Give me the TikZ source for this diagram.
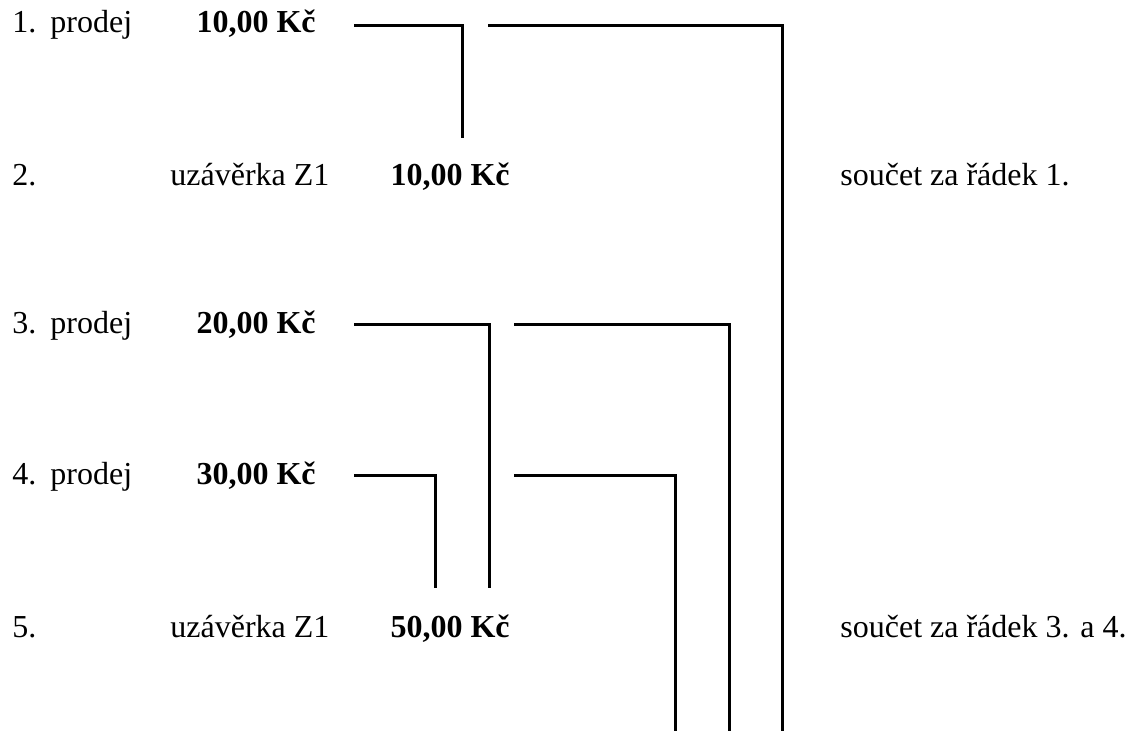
\documentclass[tikz,border=0pt]{standalone}
\usepackage{fontspec}
\setmainfont{Liberation Serif}
\begin{document}
\begin{tikzpicture}[x=0.5pt,y=-0.5pt,
  txt/.style={anchor=base west, inner sep=0pt, font=\fontsize{16}{19}\selectfont},
  amt/.style={anchor=base east, inner sep=0pt, font=\fontsize{16}{19}\selectfont\bfseries},
  conn/.style={line width=1.5pt}]
\useasboundingbox (0,0) rectangle (1125,731);
% row 1
\node[txt] (n1) at (12,33) {1.};
\node[txt] (p1) at (50,33) {prodej};
\node[amt] (a1) at (316,33) {10,00 Kč};
% row 2
\node[txt] (n2) at (12,186) {2.};
\node[txt] (u2) at (170,186) {uzávěrka Z1};
\node[amt] (a2) at (510,186) {10,00 Kč};
\node[txt] (s2) at (840,186) {součet za řádek 1.};
% row 3
\node[txt] (n3) at (12,334) {3.};
\node[txt] (p3) at (50,334) {prodej};
\node[amt] (a3) at (316,334) {20,00 Kč};
% row 4
\node[txt] (n4) at (12,485) {4.};
\node[txt] (p4) at (50,485) {prodej};
\node[amt] (a4) at (316,485) {30,00 Kč};
% row 5
\node[txt] (n5) at (12,638) {5.};
\node[txt] (u5) at (170,638) {uzávěrka Z1};
\node[amt] (a5) at (510,638) {50,00 Kč};
\node[txt] (s5) at (840,638) {součet za řádek 3. a 4.};
% connector ends
\coordinate (r1a) at (354,25.7);
\coordinate (r1c) at (462,138);
\coordinate (r1d) at (488,25.7);
\coordinate (r1f) at (782,731);
\coordinate (r3a) at (354,325);
\coordinate (r3c) at (489,588);
\coordinate (r3d) at (514,325);
\coordinate (r3f) at (729,731);
\coordinate (r4a) at (354,476);
\coordinate (r4c) at (435,588);
\coordinate (r4d) at (514,476);
\coordinate (r4f) at (675,731);
\draw[conn] (r1a) -| (r1c);
\draw[conn] (r1d) -| (r1f);
\draw[conn] (r3a) -| (r3c);
\draw[conn] (r3d) -| (r3f);
\draw[conn] (r4a) -| (r4c);
\draw[conn] (r4d) -| (r4f);
\end{tikzpicture}
\end{document}
